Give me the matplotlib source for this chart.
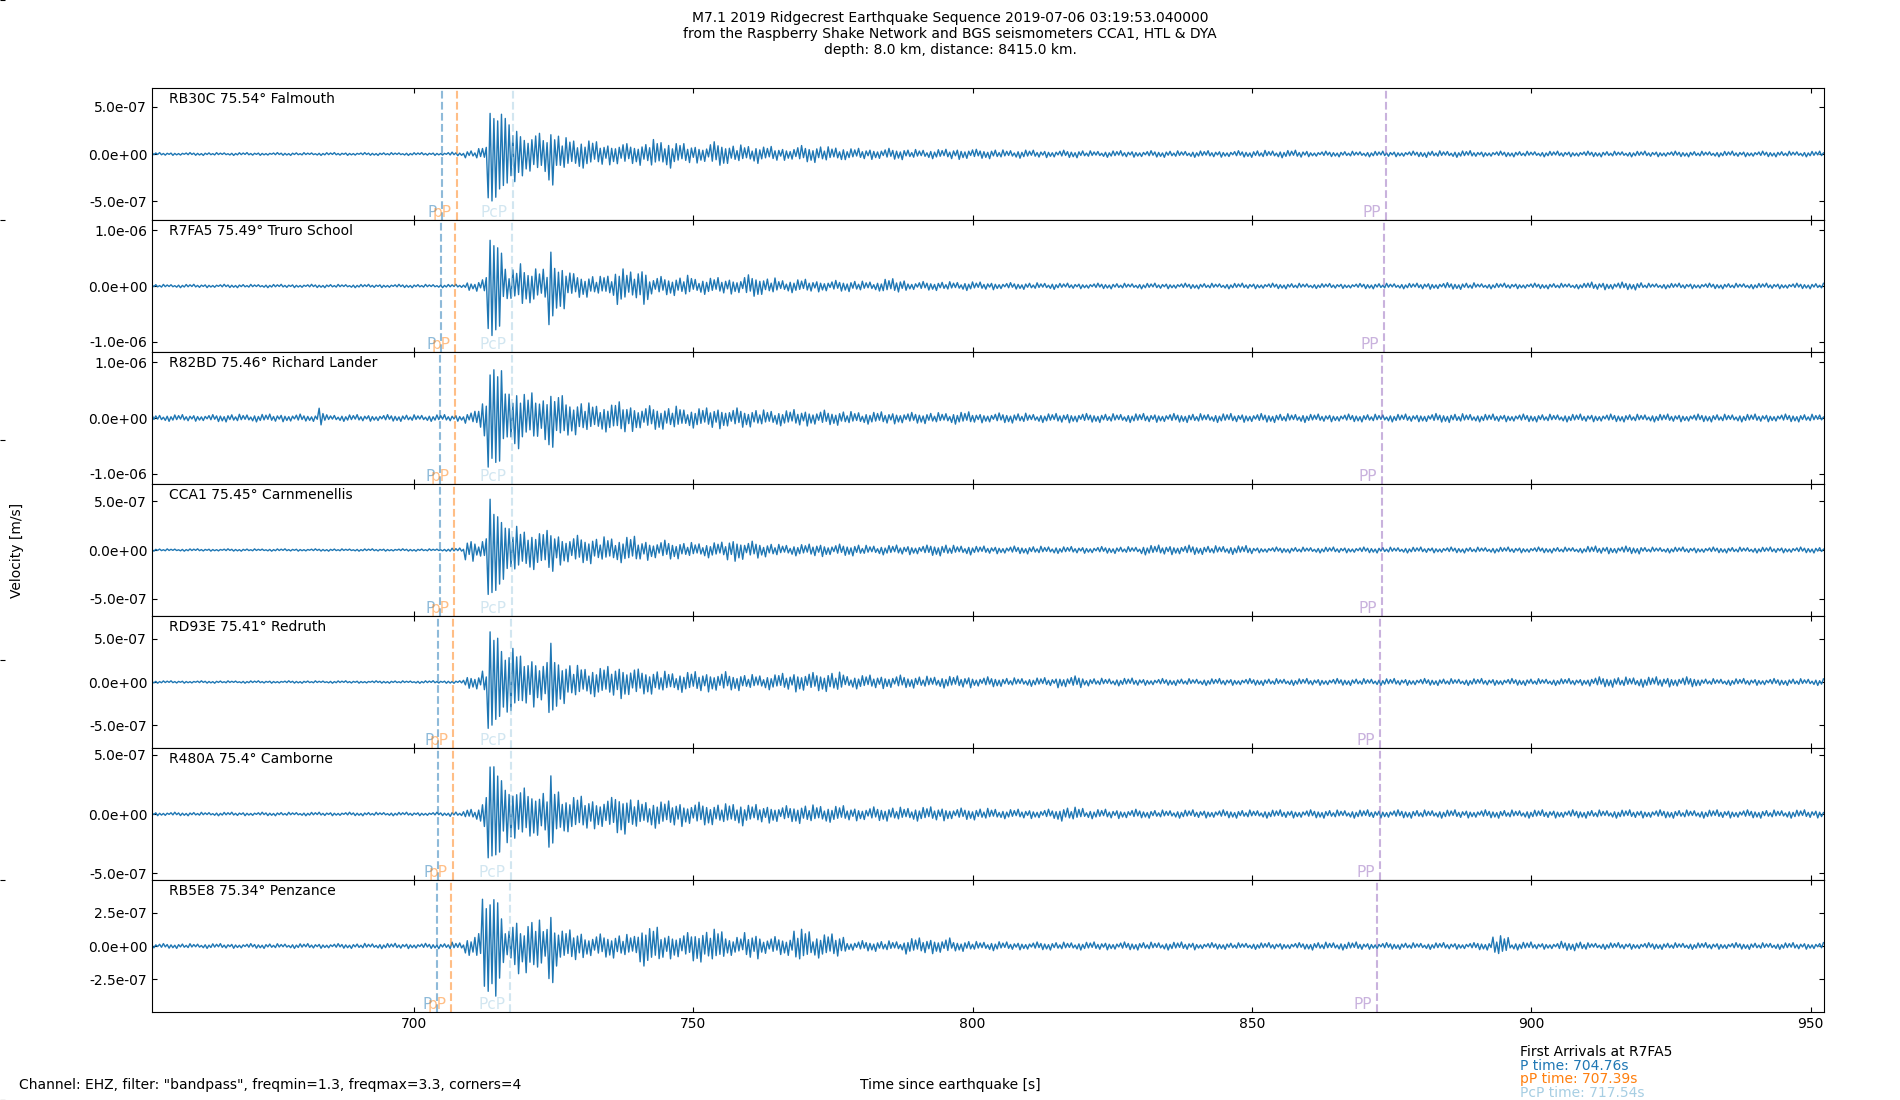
import numpy as np
import matplotlib
matplotlib.use("Agg")
import matplotlib.pyplot as plt
import matplotlib.transforms as mtransforms
from matplotlib.ticker import MultipleLocator, FormatStrFormatter

# ---------------- data ----------------
stations = ["RB30C", "R7FA5", "R82BD", "CCA1", "RD93E", "R480A", "RB5E8"]
distances = [75.54, 75.49, 75.46, 75.45, 75.41, 75.4, 75.34]
places = ["Falmouth", "Truro School", "Richard Lander", "Carnmenellis",
          "Redruth", "Camborne", "Penzance"]

# phase arrival times (s since earthquake) per station
p_times = [705.00, 704.76, 704.62, 704.57, 704.38, 704.34, 704.06]
pP_times = [707.63, 707.39, 707.25, 707.20, 707.01, 706.97, 706.69]
PcP_times = [717.64, 717.54, 717.48, 717.46, 717.38, 717.36, 717.24]
PP_times = [874.00, 873.60, 873.35, 873.27, 872.94, 872.85, 872.36]
phase_names = ["P", "pP", "PcP", "PP"]

# trace time span (s)
t_start, t_end = 653.1, 952.4

# envelope (peak |velocity|, units of 1e-8 m/s),
# each value holds from its start time to the next one
env_t = [653, 665, 680, 683, 684, 690, 700, 706, 709, 711,
         712, 713, 714, 715, 716, 717, 718, 719, 720, 721,
         722, 723, 724, 725, 726, 727, 728, 730, 732, 734,
         736, 738, 740, 742, 744, 746, 748, 750, 753, 756,
         759, 762, 765, 768, 771, 774, 777, 780, 784, 788,
         792, 796, 800, 805, 810, 815, 820, 830, 840, 850,
         860, 870, 880, 890, 893, 896, 900, 905, 910, 920,
         930, 940]

env_RB30C = [1.5, 1.5, 1.5, 1.5, 1.5, 1.5, 1.5, 2, 4, 6,
             9, 54, 46, 44, 43, 31, 33, 24, 22, 24,
             22, 20, 33, 22, 19, 18, 17, 15, 13, 12,
             13, 11, 12, 16, 15, 12, 11, 10, 13, 10,
             10, 8, 7, 9, 9, 8, 6, 6, 6, 5,
             5, 6, 5, 4.5, 4, 4, 3.5, 3.5, 3.5, 4,
             3, 3, 3.5, 3, 3, 3, 3, 3, 3, 3,
             3, 3]
env_R7FA5 = [3, 3, 3, 3, 3, 3, 3, 3, 8, 12,
             15, 91, 86, 72, 35, 30, 32, 47, 30, 33,
             28, 30, 75, 41, 48, 30, 22, 20, 18, 22,
             33, 25, 34, 18, 17, 17, 20, 15, 15, 15,
             20, 15, 12, 12, 11, 10, 10, 9, 13, 8,
             8, 8, 7, 6, 6, 5, 5, 5, 5, 5,
             4.5, 5, 6, 5, 5, 5, 5, 5, 7, 5,
             5, 5]
env_R82BD = [6, 7, 6, 21, 6, 6, 6, 6, 12, 18,
             40, 88, 91, 86, 55, 50, 55, 45, 40, 45,
             38, 40, 60, 45, 40, 33, 30, 28, 26, 25,
             29, 25, 22, 22, 20, 22, 18, 18, 20, 18,
             16, 15, 14, 15, 14, 13, 12, 11, 11, 10,
             10, 11, 9, 9, 8, 9, 8, 8, 8, 8,
             7, 7, 8, 7, 7, 7, 7, 7, 7, 7,
             7, 7]
env_CCA1 = [1.2, 1.2, 1.2, 1.2, 1.2, 1.2, 1.2, 2, 12, 8,
            15, 52, 43, 40, 30, 25, 25, 22, 22, 20,
            18, 20, 25, 18, 16, 15, 15, 14, 13, 14,
            13, 14, 11, 10, 10, 9, 8, 8, 8, 12,
            9, 7, 6, 6, 7, 6, 6, 5, 5, 5,
            6, 5, 4, 4, 4, 3.5, 3.5, 5, 4.5, 3,
            3, 3, 3, 3, 3, 3, 3, 3, 4, 3,
            3, 3]
env_RD93E = [1.4, 1.4, 1.4, 1.4, 1.4, 1.4, 1.5, 2, 8, 8,
             15, 59, 55, 50, 35, 41, 35, 30, 28, 30,
             25, 28, 45, 30, 25, 22, 20, 18, 17, 18,
             20, 18, 15, 14, 13, 12, 12, 12, 12, 10,
             9, 9, 10, 12, 11, 12, 8, 8, 8, 7,
             7, 7, 6, 5, 5, 7, 4.5, 4, 4, 4,
             4, 4, 4, 4, 4, 4, 4, 4, 6, 6,
             4, 4]
env_R480A = [1.5, 1.5, 1.5, 1.5, 1.5, 1.5, 1.5, 2, 5, 6,
             15, 43, 40, 35, 25, 25, 24, 22, 20, 20,
             18, 20, 33, 22, 18, 15, 15, 14, 13, 14,
             17, 14, 12, 12, 11, 11, 10, 10, 9, 10,
             8, 8, 7, 8, 8, 7, 6, 6, 6, 6,
             6, 5, 5, 4, 4, 6, 4, 3.5, 3.5, 3.5,
             3.5, 3.5, 3.5, 3.5, 3.5, 3.5, 3.5, 3.5, 3.5, 3.5,
             3.5, 3.5]
env_RB5E8 = [1.8, 1.8, 1.8, 1.8, 1.8, 2, 2, 3, 7, 12,
             35, 36, 38, 29, 15, 14, 22, 15, 20, 20,
             20, 15, 31, 15, 12, 12, 12, 9, 9, 9,
             9, 9, 15, 14, 10, 10, 10, 12, 13, 7,
             10, 7, 7, 13, 9, 9, 4, 4, 4, 6,
             6, 4, 3.5, 3, 3, 3, 3, 3, 2.5, 2.5,
             3, 2.5, 2.5, 3, 8, 3, 2.5, 3.5, 2.5, 2.5,
             2.5, 2.5]

y_tick_steps = [5e-7, 1e-6, 1e-6, 5e-7, 5e-7, 5e-7, 2.5e-7]

# ---------------- styling ----------------
envelopes = [env_RB30C, env_R7FA5, env_R82BD, env_CCA1, env_RD93E, env_R480A, env_RB5E8]
phase_times = [p_times, pP_times, PcP_times, PP_times]
phase_colors = ["tab:blue", "tab:orange", "#a6cee3", "tab:purple"]
# irregular peak-height pattern for the oscillation (appearance only)
PEAK_SHAPE = [0.9, 0.45, 0.7, 0.3, 1.0, 0.55, 0.35, 0.8, 0.5, 0.25, 0.65, 0.95,
              0.4, 0.6, 0.3, 0.75, 0.45, 0.2, 0.7, 0.5, 1.0, 0.35, 0.6]
shape_offsets = [0, 5, 11, 3, 17, 8, 14]
HALF_PERIOD = 0.34

fig = plt.figure(figsize=(19, 11), dpi=100)

# background axes (frameless) spanning the figure
bg = fig.add_axes([0, 0, 1, 1], frameon=False, zorder=-1)
bg.tick_params(direction="in", labelleft=False, labelbottom=False, bottom=False)

axes = fig.subplots(7, 1, sharex=True)
fig.subplots_adjust(left=0.08, right=0.96, top=0.92, bottom=0.08, hspace=0)

env_t_arr = np.array(env_t, dtype=float)
t = np.arange(t_start, t_end + 1e-9, HALF_PERIOD)
k = np.arange(len(t))
sign = np.where(k % 2 == 0, 1.0, -1.0)
shape = np.array(PEAK_SHAPE)

for i, ax in enumerate(axes):
    env = np.array(envelopes[i]) * 1e-8
    idx = np.clip(np.searchsorted(env_t_arr, t, side="right") - 1, 0, len(env) - 1)
    a = env[idx]
    # strong bins keep their peaks, weak bins vary more
    w = 1.0 - 0.75 * (a / env.max())
    s = shape[(k + shape_offsets[i]) % len(shape)]
    y = sign * a * (1.0 - w * (1.0 - s))
    ax.plot(t, y, color="tab:blue", lw=1.0)

    lim = 1.3 * env.max()
    ax.set_ylim(-lim, lim)
    step = y_tick_steps[i]
    ax.set_yticks([step, 0, -step])
    ax.yaxis.set_major_formatter(FormatStrFormatter("%.1e"))
    ax.set_xlim(t_start, t_end)
    ax.xaxis.set_major_locator(MultipleLocator(50))
    ax.tick_params(direction="in", top=True, right=True, labelsize=10)

    ax.text(0.01, 0.97, f"{stations[i]} {distances[i]}\u00b0 {places[i]}",
            transform=ax.transAxes, va="top", ha="left", fontsize=10)

    trans = mtransforms.blended_transform_factory(ax.transData, ax.transAxes)
    for name, times, col in zip(phase_names, phase_times, phase_colors):
        ax.axvline(times[i], color=col, ls="--", lw=1.5, alpha=0.5)
        ax.text(times[i] - 0.9, 0.0, name, transform=trans, ha="right", va="bottom",
                color=col, alpha=0.5, fontsize=11)

fig.suptitle("M7.1 2019 Ridgecrest Earthquake Sequence 2019-07-06 03:19:53.040000\n"
             "from the Raspberry Shake Network and BGS seismometers CCA1, HTL & DYA\n"
             "depth: 8.0 km, distance: 8415.0 km.", y=0.99, fontsize=10)

fig.text(0.009, 0.5, "Velocity [m/s]", rotation=90, ha="center", va="center", fontsize=10)
fig.text(0.01, 0.01, 'Channel: EHZ, filter: "bandpass", freqmin=1.3, freqmax=3.3, corners=4',
         fontsize=10)
fig.text(0.5, 0.01, "Time since earthquake [s]", ha="center", fontsize=10)

ref = 1  # R7FA5
arrival_lines = [("First Arrivals at R7FA5", "black"),
                 (f"P time: {p_times[ref]:.2f}s", "tab:blue"),
                 (f"pP time: {pP_times[ref]:.2f}s", "tab:orange"),
                 (f"PcP time: {PcP_times[ref]:.2f}s", "#a6cee3")]
for j, (txt, col) in enumerate(arrival_lines):
    fig.text(0.8, 0.04 - j * 0.0125, txt, color=col, fontsize=10)

fig.savefig("out.png", dpi=100)
